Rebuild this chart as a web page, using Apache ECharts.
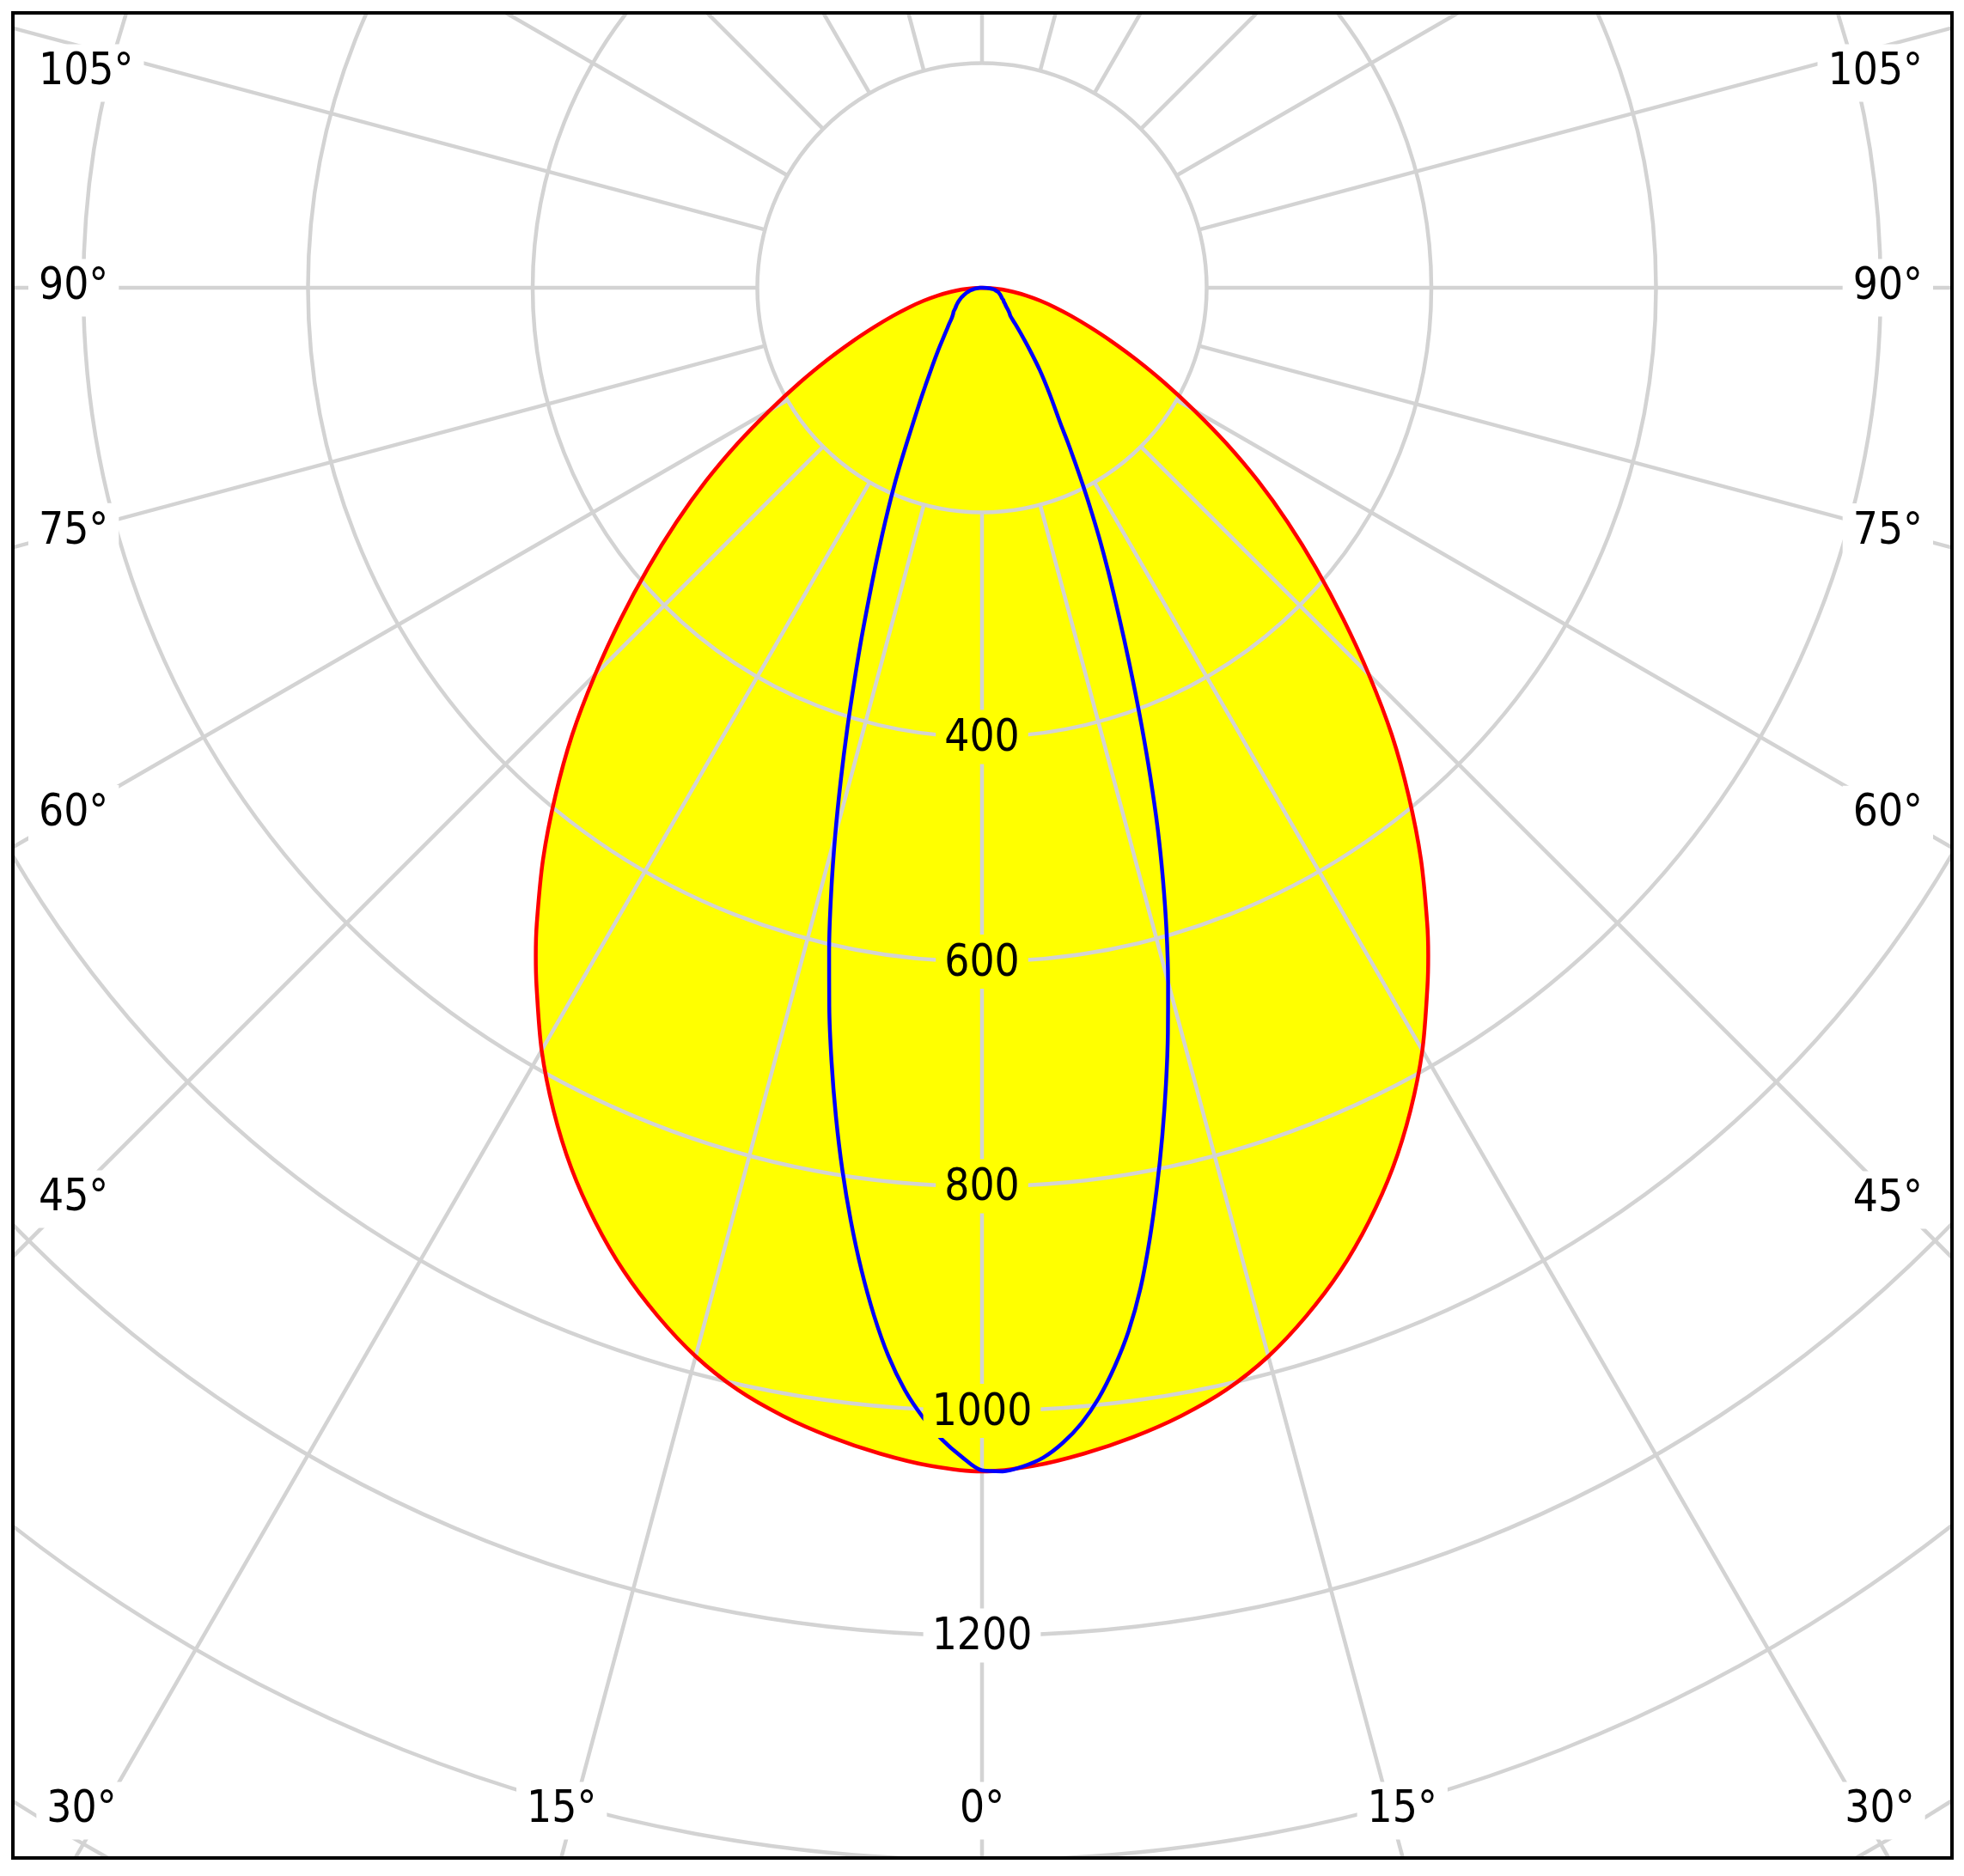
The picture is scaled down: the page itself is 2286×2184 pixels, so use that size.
<!DOCTYPE html>
<html>
<head>
<meta charset="utf-8">
<title>Polar light distribution</title>
<script src="https://cdn.jsdelivr.net/npm/echarts@6/dist/echarts.min.js"></script>
<style>
  html, body { margin: 0; padding: 0; background: #fff; }
  #main { position: absolute; left: 13px; top: 13px; width: 2253px; height: 2144px; border: 4px solid #000; }
</style>
</head>
<body>
<div id="main"></div>
<script>
// gamma angles (0 = straight down)
var redAngles = [0, 2.5, 5, 7.5, 10, 12.5, 15, 17.5, 20, 22.5, 25, 27.5, 30, 32.5, 33.75, 35, 37.5, 40, 42.5, 45,
                 47.5, 50, 52.5, 55, 57.5, 60, 62.5, 65, 67.5, 70, 72.5, 75, 77.5, 80, 82.5, 85, 87.5, 90];
var blueAngles = [0, 1, 2, 3, 4, 5, 6, 7, 8, 9, 10, 11, 12, 13, 14, 15, 16, 17, 18, 19, 20, 21, 22, 23, 24, 25,
                  26, 27, 28, 29, 30, 32.5, 35, 37.5, 40, 42.5, 45, 47.5, 50, 52.5, 55, 57.5, 60, 62.5, 65,
                  67.5, 70, 72.5, 75, 77.5, 80, 82.5, 85, 87.5, 90];

// red plane (filled yellow), symmetric about 0
var redValues = [1054, 1050, 1042, 1032, 1020, 1005, 985, 960, 932, 900, 865, 826, 784, 738, 715, 691, 642, 591, 540, 487,
                 436, 388, 343, 300, 258, 218, 183, 152, 125, 102, 83, 67, 53, 40, 28, 18, 8, 0];

// blue plane, right and left half
var blueRight = [1053, 1054, 1050, 1043, 1031, 1015, 994, 968, 938, 902, 860, 816, 772, 728, 684, 640, 596, 551,
                 506, 460, 416, 375, 338, 305, 276, 249, 223, 199, 177, 158, 140,
                 112, 90, 70, 55, 44, 36, 33, 30, 27, 25, 23, 22, 20, 19, 18, 17, 16, 15, 13, 12, 10, 7, 4, 0];
var blueLeft  = [1053, 1041, 1026, 1007, 984, 955, 920, 881, 839, 795, 749, 702, 654, 605, 555, 505, 456, 410,
                 367, 329, 294, 264, 237, 213, 191, 170, 151, 135, 122, 111, 101,
                 82, 68, 57, 49, 43, 38, 35, 33, 30, 28, 26, 24, 22, 20, 18, 16, 14, 12, 10, 8, 6, 4, 2, 0];

var radiusLabels = [400, 600, 800, 1000, 1200];
var angleTicks = [105, 90, 75, 60, 45, 30, 15, 0];

var W = 2253, H = 2144;
var cx = 1126, cy = 318;
var rMax = 2000, pxPerUnit = 1.3075;
var gridColor = '#d3d3d3';
var fontFamily = '"DejaVu Sans Condensed", "DejaVu Sans", sans-serif';
var labelPad = 12;

var chart = echarts.init(document.getElementById('main'));

// [radius, angle]; right side goes counter-clockwise from the bottom
function half(angles, vals, side) {
    return angles.map(function (g, i) {
        return [vals[i], side < 0 ? 360 - g : g];
    });
}
function curve(angles, left, right) {
    return half(angles, left, -1).reverse().concat(half(angles, right, 1).slice(1));
}

var redData = curve(redAngles, redValues, redValues);
var blueData = curve(blueAngles, blueLeft, blueRight);
var peakRed = redValues[0];

// angle labels sit where each ray leaves the frame
function angleLabel(deg, side) {
    var rad = deg * Math.PI / 180;
    var dx = Math.sin(rad) * side, dy = Math.cos(rad);
    var span = side < 0 ? cx : W - cx;
    var tSide = Math.abs(dx) > 1e-9 ? span / Math.abs(dx) : Infinity;
    var tBottom = dy > 1e-9 ? (H - cy) / dy : Infinity;
    var pos;
    if (tBottom < tSide) {
        var x = cx + dx * tBottom;
        x = Math.min(Math.max(x, 78), W - 82);
        pos = { x: x, y: H - 53, align: 'center' };
    } else {
        var y = cy + dy * (span - 65) / Math.abs(dx);
        y = Math.max(y, 68);
        pos = { x: side < 0 ? 28 - labelPad : W - 32 + labelPad, y: y, align: side < 0 ? 'left' : 'right' };
    }
    return {
        type: 'text',
        z: 10,
        silent: true,
        style: {
            text: deg + '°',
            x: pos.x,
            y: pos.y,
            align: pos.align,
            verticalAlign: 'middle',
            fontSize: 51,
            fontFamily: fontFamily,
            fill: '#000',
            backgroundColor: '#fff',
            padding: [8, labelPad]
        }
    };
}

var graphics = [];
angleTicks.forEach(function (a) {
    graphics.push(angleLabel(a, -1));
    if (a !== 0) graphics.push(angleLabel(a, 1));
});

var option = {
    animation: false,
    backgroundColor: '#fff',
    polar: [
        { center: [cx, cy], radius: [200 * pxPerUnit, rMax * pxPerUnit] },
        { center: [cx, cy], radius: [0, rMax * pxPerUnit] }
    ],
    angleAxis: [
        {
            polarIndex: 0,
            type: 'value',
            min: 0,
            max: 360,
            interval: 15,
            startAngle: 270,
            clockwise: false,
            z: 3,
            axisLine: { show: false },
            axisTick: { show: false },
            axisLabel: { show: false },
            splitLine: { show: true, lineStyle: { color: gridColor, width: 4.5 } }
        },
        {
            polarIndex: 1,
            type: 'value',
            min: 0,
            max: 360,
            startAngle: 270,
            clockwise: false,
            show: false
        }
    ],
    radiusAxis: [
        {
            polarIndex: 0,
            type: 'value',
            min: 200,
            max: rMax,
            interval: 200,
            z: 3,
            axisLine: { show: false },
            axisTick: { show: false },
            axisLabel: { show: false },
            splitLine: { show: true, lineStyle: { color: gridColor, width: 4.5 } }
        },
        {
            polarIndex: 1,
            type: 'value',
            min: 0,
            max: rMax,
            interval: 200,
            z: 8,
            axisLine: { show: false },
            axisTick: { show: false },
            splitLine: { show: false },
            axisLabel: {
                margin: 0,
                align: 'center',
                verticalAlign: 'middle',
                formatter: function (v) {
                    if (radiusLabels.indexOf(v) < 0) return '';
                    return (v < peakRed ? '{y|' : '{w|') + v + '}';
                },
                rich: {
                    y: { backgroundColor: '#ffff00', padding: [9, 10, 3, 10], fontSize: 51, fontFamily: fontFamily, color: '#000' },
                    w: { backgroundColor: '#fff', padding: [9, 10, 3, 10], fontSize: 51, fontFamily: fontFamily, color: '#000' }
                }
            }
        }
    ],
    graphic: graphics,
    series: [
        {
            name: 'fill',
            type: 'line',
            coordinateSystem: 'polar',
            polarIndex: 1,
            data: redData,
            symbol: 'none',
            smooth: 0.3,
            z: 1,
            silent: true,
            lineStyle: { opacity: 0 },
            areaStyle: { color: '#ffff00', opacity: 1 }
        },
        {
            name: 'C0-C180',
            type: 'line',
            coordinateSystem: 'polar',
            polarIndex: 1,
            data: redData,
            symbol: 'none',
            smooth: 0.3,
            z: 5,
            lineStyle: { color: '#ff0000', width: 4.5 }
        },
        {
            name: 'C90-C270',
            type: 'line',
            coordinateSystem: 'polar',
            polarIndex: 1,
            data: blueData,
            symbol: 'none',
            smooth: 0.3,
            z: 5,
            lineStyle: { color: '#0000ff', width: 4.5 }
        }
    ]
};

chart.setOption(option);
</script>
</body>
</html>
